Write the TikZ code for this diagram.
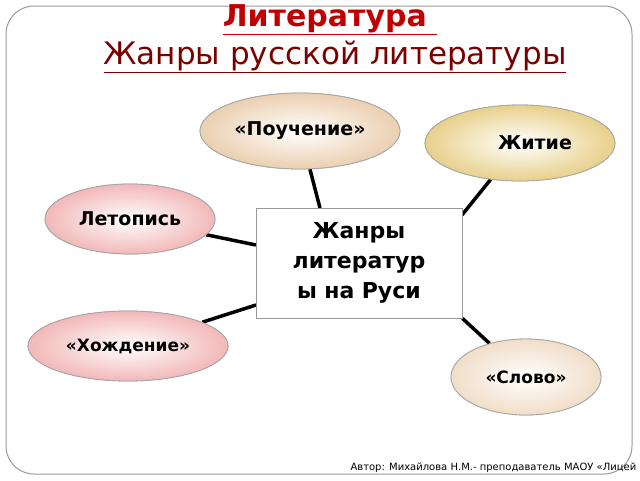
\documentclass[tikz,border=0pt]{standalone}
\usepackage{fontspec}
\setmainfont{DejaVu Sans}
\usetikzlibrary{shapes.geometric, positioning}

\definecolor{pinkish}{HTML}{F2B8B8}
\definecolor{beige}{HTML}{EBCFB0}
\definecolor{yellowish}{HTML}{E8D08A}
\definecolor{titlered}{HTML}{C00000}
\definecolor{titlemaroon}{HTML}{7A0000}

\begin{document}
\begin{tikzpicture}[x=1pt, y=-1pt,
        genre/.style={ellipse, draw=gray!70, line width=0.8pt, inner color=white, font=\bfseries\fontsize{19}{22}\selectfont},
        hub/.style={rectangle, draw=gray!80, line width=0.8pt, fill=white, align=center, text width=186pt, font=\bfseries\fontsize{22}{30}\selectfont},
        link/.style={line width=3.5pt, black}]
        \useasboundingbox (0,0) rectangle (640,480);
        \draw[gray!80, line width=1pt, rounded corners=28pt] (6,6) rectangle (632,474);

        % Title
        \node[font=\bfseries\fontsize{30}{32}\selectfont, text=titlered] (title) at (330,20) {\underline{Литература }};
        \node[font=\fontsize{31}{34}\selectfont, text=titlemaroon] (subtitle) at (335,57) {\underline{Жанры русской литературы}};

        % Nodes
        \node[hub, minimum width=206pt, minimum height=110pt] (center) at (359,263) {Жанры\\литератур\\ы на Руси};
        \node[genre, outer color=beige, minimum width=200pt, minimum height=76pt] (teach) at (300,131) {«Поучение»};
        \node[genre, outer color=yellowish, minimum width=190pt, minimum height=76pt] (life) at (520,143) {\hspace{30pt}Житие};
        \node[genre, outer color=pinkish, minimum width=170pt, minimum height=70pt] (chron) at (130,219) {Летопись};
        \node[genre, outer color=pinkish, minimum width=200pt, minimum height=70pt, font=\bfseries\fontsize{17}{20}\selectfont] (walk) at (128,346) {«Хождение»};
        \node[genre, outer color=beige!70, minimum width=150pt, minimum height=76pt, font=\bfseries\fontsize{17}{20}\selectfont] (word) at (526,377) {«Слово»};

        % Connector ends on the box
        \coordinate (cn) at (320,208);
        \coordinate (cne) at (462,215);
        \coordinate (cw) at (256,245);
        \coordinate (csw) at (256,305);

        % Arrows
        \draw[link] (teach) -- (cn);
        \draw[link] (life) -- (cne);
        \draw[link] (chron) -- (cw);
        \draw[link] (walk) -- (csw);
        \draw[link] (word) -- (center.south east);

        % redraw ellipses over line ends
        \node[genre, outer color=beige, minimum width=200pt, minimum height=76pt] at (teach) {«Поучение»};
        \node[genre, outer color=yellowish, minimum width=190pt, minimum height=76pt] at (life) {\hspace{30pt}Житие};
        \node[genre, outer color=pinkish, minimum width=170pt, minimum height=70pt] at (chron) {Летопись};
        \node[genre, outer color=pinkish, minimum width=200pt, minimum height=70pt, font=\bfseries\fontsize{17}{20}\selectfont] at (walk) {«Хождение»};
        \node[genre, outer color=beige!70, minimum width=150pt, minimum height=76pt, font=\bfseries\fontsize{17}{20}\selectfont] at (word) {«Слово»};
        \node[hub, minimum width=206pt, minimum height=110pt] at (center) {Жанры\\литератур\\ы на Руси};

        \node[font=\fontsize{10}{11}\selectfont, anchor=west] (author) at (347,468) {Автор: Михайлова Н.М.- преподаватель МАОУ «Лицей};
    \end{tikzpicture}
\end{document}
